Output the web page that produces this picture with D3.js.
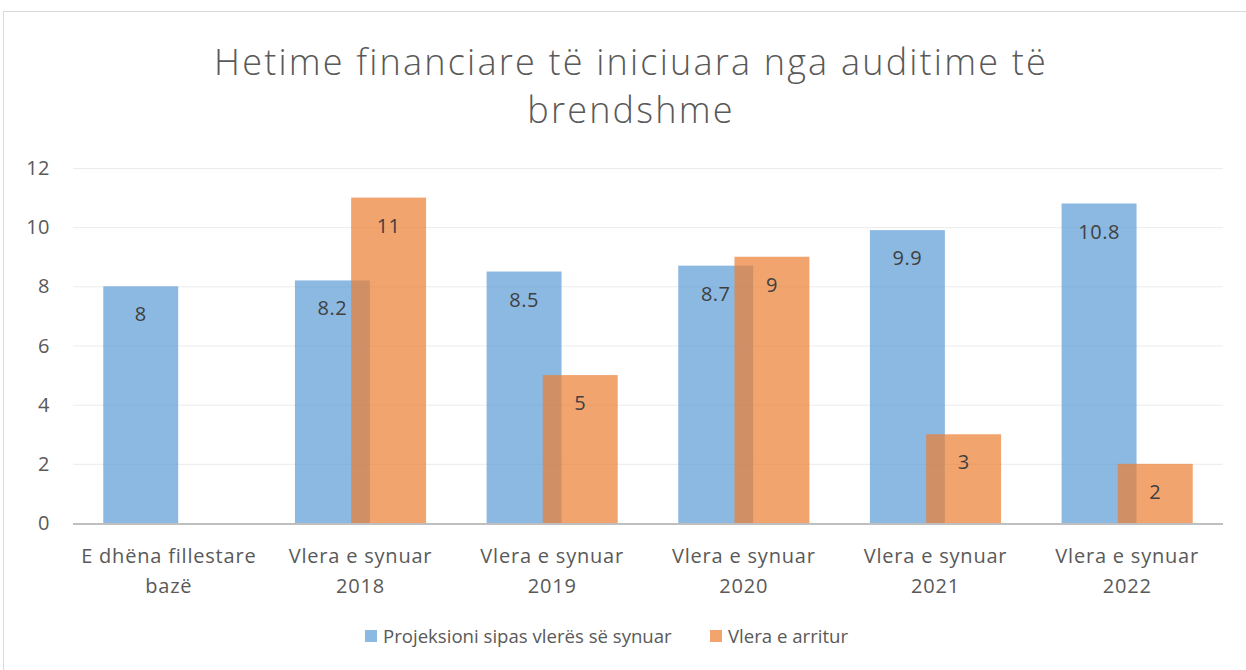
<!DOCTYPE html>
<html>
<head>
<meta charset="utf-8">
<script src="https://cdn.jsdelivr.net/npm/d3@7"></script>
<style>
  body { margin: 0; background: #fff; }
  text { font-family: "Open Sans", "Noto Sans", sans-serif; fill: #595959; }
</style>
</head>
<body>
<svg id="chart" width="1246" height="670"></svg>
<script>
// chart values
const categories = [
  ["E dhëna fillestare", "bazë"],
  ["Vlera e synuar", "2018"],
  ["Vlera e synuar", "2019"],
  ["Vlera e synuar", "2020"],
  ["Vlera e synuar", "2021"],
  ["Vlera e synuar", "2022"]
];
const projected = [8, 8.2, 8.5, 8.7, 9.9, 10.8];
const achieved = [null, 11, 5, 9, 3, 2];
const seriesNames = ["Projeksioni sipas vlerës së synuar", "Vlera e arritur"];
const yTicks = [0, 2, 4, 6, 8, 10, 12];

const W = 1246, H = 670;
const margin = {left: 73, right: 23, top: 168, bottom: 147};

const svg = d3.select("#chart");

// outer chart border (runs off the right / bottom edge)
svg.append("rect")
  .attr("x", 3.5).attr("y", 11.5)
  .attr("width", 1260).attr("height", 700)
  .attr("fill", "none").attr("stroke", "#D9D9D9").attr("stroke-width", 1);

// title
const title = svg.append("text")
  .attr("text-anchor", "middle")
  .style("font-size", "36px").style("font-weight", 300)
  .style("letter-spacing", "2.2px");
title.append("tspan").attr("x", 631).attr("y", 75).text("Hetime financiare të iniciuara nga auditime të");
title.append("tspan").attr("x", 631).attr("y", 123).text("brendshme");

const x = d3.scaleBand()
  .domain(d3.range(categories.length))
  .range([margin.left, W - margin.right])
  .padding(0);

const y = d3.scaleLinear()
  .domain([0, 12])
  .range([H - margin.bottom, margin.top]);

const g = svg.append("g");

//------------------------------grid + axis------------------------------
g.selectAll(".grid")
  .data(yTicks.filter(d => d > 0))
  .join("line")
  .attr("x1", margin.left).attr("x2", W - margin.right)
  .attr("y1", d => y(d) + 0.5).attr("y2", d => y(d) + 0.5)
  .attr("stroke", "#EBEBEB").attr("stroke-width", 1);

g.selectAll(".ytick")
  .data(yTicks)
  .join("text")
  .attr("x", 50)
  .attr("y", d => y(d) + 7)
  .attr("text-anchor", "end")
  .style("font-size", "20px")
  .style("letter-spacing", "0.5px")
  .text(d => d);

//------------------------------bars------------------------------
const bw = x.bandwidth();
const barW = bw * 0.391;
const step = barW * 0.75; // 25% overlap
const off = (bw - barW - step) / 2;

const fills = ["#5B9BD5", "#ED7D31"];
[projected, achieved].forEach((vals, s) => {
  const bars = g.append("g");
  vals.forEach((v, i) => {
    if (v == null) return;
    const bx = x(i) + off + s * step;
    bars.append("rect")
      .attr("x", bx).attr("width", barW)
      .attr("y", y(v)).attr("height", y(0) - y(v))
      .attr("fill", fills[s]).attr("fill-opacity", 0.7);
  });
});

// value labels on top of bars
[projected, achieved].forEach((vals, s) => {
  vals.forEach((v, i) => {
    if (v == null) return;
    const bx = x(i) + off + s * step;
    g.append("text")
      .attr("x", bx + barW / 2)
      .attr("y", y(v) + 35)
      .attr("text-anchor", "middle")
      .style("font-size", "20px")
      .style("letter-spacing", "0.5px")
      .style("fill", "#404040")
      .text(v);
  });
});

// x axis line
g.append("line")
  .attr("x1", margin.left).attr("x2", W - margin.right)
  .attr("y1", y(0) + 1).attr("y2", y(0) + 1)
  .attr("stroke", "#BFBFBF").attr("stroke-width", 2);

// category labels
categories.forEach((lines, i) => {
  const t = g.append("text")
    .attr("text-anchor", "middle")
    .style("font-size", "20px")
    .style("letter-spacing", "0.8px");
  lines.forEach((l, k) => {
    t.append("tspan")
      .attr("x", x(i) + bw / 2)
      .attr("y", 563 + k * 30)
      .text(l);
  });
});

//------------------------------legend------------------------------
const legendX = [365, 710];
seriesNames.forEach((name, s) => {
  svg.append("rect")
    .attr("x", legendX[s]).attr("y", 630)
    .attr("width", 12).attr("height", 12)
    .attr("fill", fills[s]).attr("fill-opacity", 0.7);
  svg.append("text")
    .attr("x", legendX[s] + 18).attr("y", 643)
    .style("font-size", "18.6px")
    .text(name);
});
</script>
</body>
</html>
